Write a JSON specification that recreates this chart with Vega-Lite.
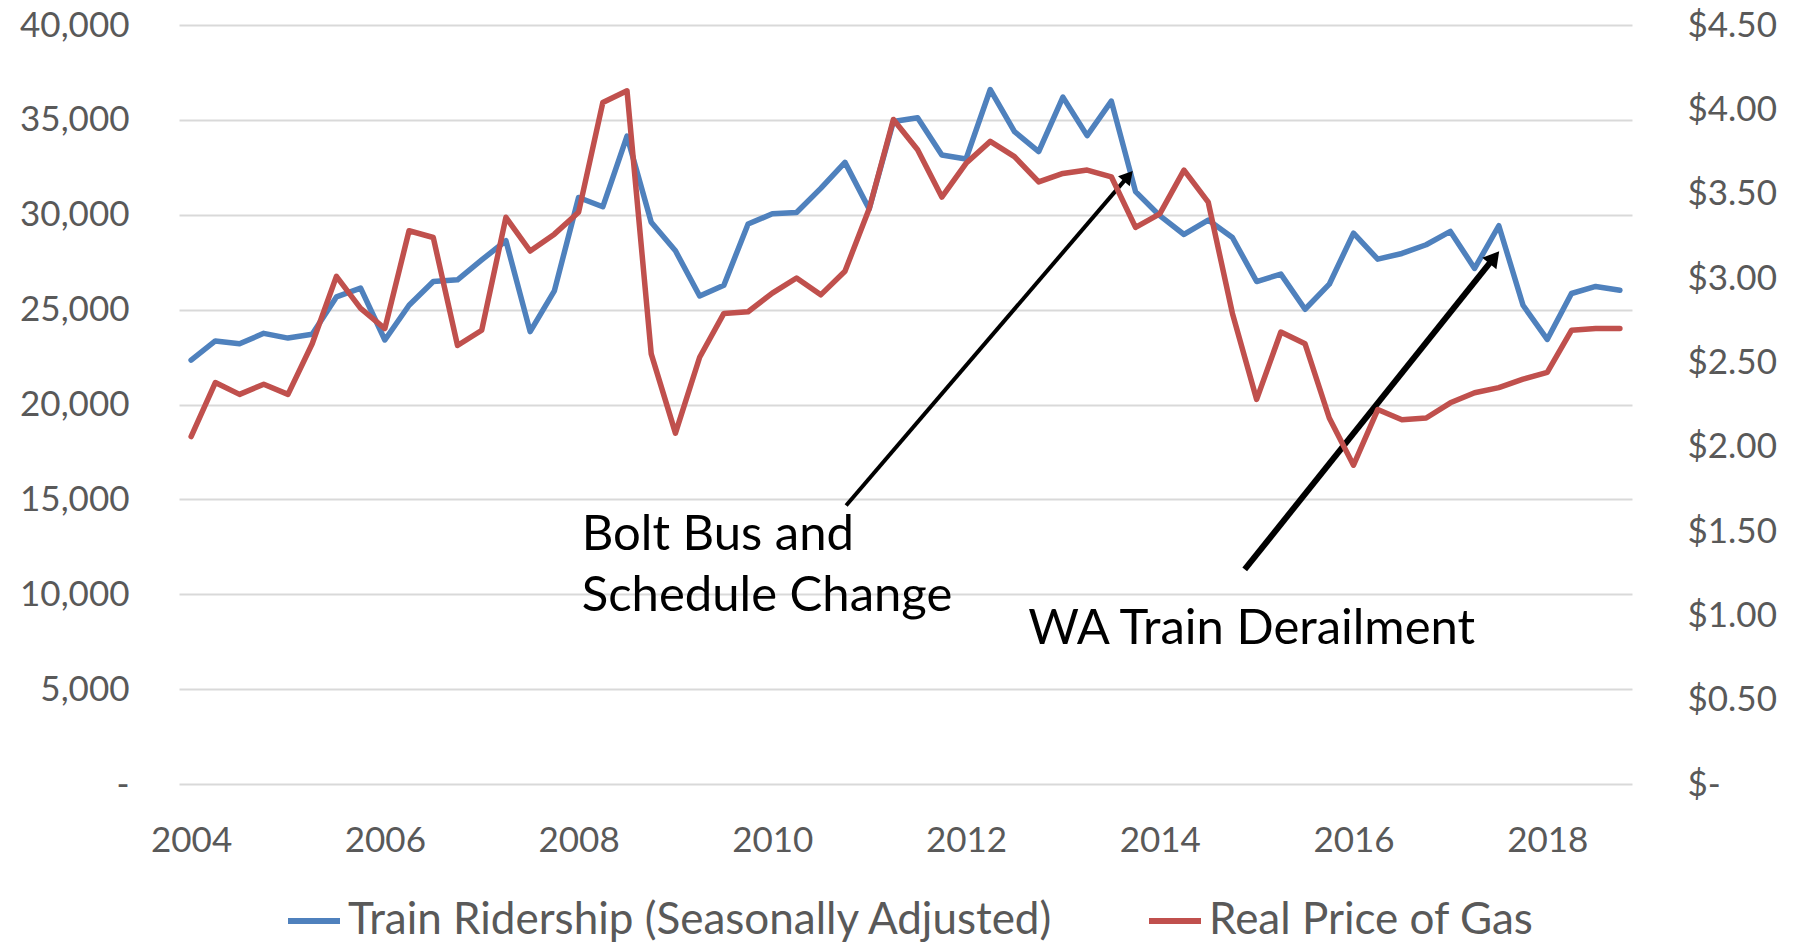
{
  "$schema": "https://vega.github.io/schema/vega-lite/v6.json",
  "width": 1453,
  "height": 759,
  "autosize": {"type": "none"},
  "padding": {"left": 179, "top": 25, "right": 180, "bottom": 158},
  "background": "white",
  "config": {
    "view": {"stroke": null},
    "font": "Lato",
    "axis": {"labelFont": "Lato", "labelColor": "#595959", "labelFontSize": 35, "title": null},
    "legend": {"labelFont": "Lato", "labelColor": "#595959", "labelFontSize": 44, "labelLimit": 0}
  },
  "datasets": {
    "series": [
      {"t": 2004.00, "ridership": 22340, "gas": 2.06},
      {"t": 2004.25, "ridership": 23350, "gas": 2.38},
      {"t": 2004.50, "ridership": 23200, "gas": 2.31},
      {"t": 2004.75, "ridership": 23750, "gas": 2.37},
      {"t": 2005.00, "ridership": 23500, "gas": 2.31},
      {"t": 2005.25, "ridership": 23700, "gas": 2.61},
      {"t": 2005.50, "ridership": 25670, "gas": 3.01},
      {"t": 2005.75, "ridership": 26130, "gas": 2.82},
      {"t": 2006.00, "ridership": 23400, "gas": 2.70},
      {"t": 2006.25, "ridership": 25230, "gas": 3.28},
      {"t": 2006.50, "ridership": 26480, "gas": 3.24},
      {"t": 2006.75, "ridership": 26570, "gas": 2.60},
      {"t": 2007.00, "ridership": 27620, "gas": 2.69},
      {"t": 2007.25, "ridership": 28630, "gas": 3.36},
      {"t": 2007.50, "ridership": 23840, "gas": 3.16},
      {"t": 2007.75, "ridership": 25990, "gas": 3.26},
      {"t": 2008.00, "ridership": 30910, "gas": 3.39},
      {"t": 2008.25, "ridership": 30420, "gas": 4.04},
      {"t": 2008.50, "ridership": 34140, "gas": 4.11},
      {"t": 2008.75, "ridership": 29600, "gas": 2.55},
      {"t": 2009.00, "ridership": 28100, "gas": 2.08},
      {"t": 2009.25, "ridership": 25720, "gas": 2.53},
      {"t": 2009.50, "ridership": 26290, "gas": 2.79},
      {"t": 2009.75, "ridership": 29510, "gas": 2.80},
      {"t": 2010.00, "ridership": 30050, "gas": 2.91},
      {"t": 2010.25, "ridership": 30120, "gas": 3.00},
      {"t": 2010.50, "ridership": 31390, "gas": 2.90},
      {"t": 2010.75, "ridership": 32760, "gas": 3.04},
      {"t": 2011.00, "ridership": 30300, "gas": 3.41},
      {"t": 2011.25, "ridership": 34910, "gas": 3.94},
      {"t": 2011.50, "ridership": 35110, "gas": 3.76},
      {"t": 2011.75, "ridership": 33150, "gas": 3.48},
      {"t": 2012.00, "ridership": 32940, "gas": 3.68},
      {"t": 2012.25, "ridership": 36600, "gas": 3.81},
      {"t": 2012.50, "ridership": 34380, "gas": 3.72},
      {"t": 2012.75, "ridership": 33330, "gas": 3.57},
      {"t": 2013.00, "ridership": 36200, "gas": 3.62},
      {"t": 2013.25, "ridership": 34170, "gas": 3.64},
      {"t": 2013.50, "ridership": 35990, "gas": 3.60},
      {"t": 2013.75, "ridership": 31220, "gas": 3.30},
      {"t": 2014.00, "ridership": 29950, "gas": 3.38},
      {"t": 2014.25, "ridership": 28960, "gas": 3.64},
      {"t": 2014.50, "ridership": 29720, "gas": 3.45},
      {"t": 2014.75, "ridership": 28800, "gas": 2.79},
      {"t": 2015.00, "ridership": 26480, "gas": 2.28},
      {"t": 2015.25, "ridership": 26870, "gas": 2.68},
      {"t": 2015.50, "ridership": 25020, "gas": 2.61},
      {"t": 2015.75, "ridership": 26340, "gas": 2.17},
      {"t": 2016.00, "ridership": 29030, "gas": 1.89},
      {"t": 2016.25, "ridership": 27660, "gas": 2.22},
      {"t": 2016.50, "ridership": 27960, "gas": 2.16},
      {"t": 2016.75, "ridership": 28420, "gas": 2.17},
      {"t": 2017.00, "ridership": 29120, "gas": 2.26},
      {"t": 2017.25, "ridership": 27170, "gas": 2.32},
      {"t": 2017.50, "ridership": 29420, "gas": 2.35},
      {"t": 2017.75, "ridership": 25230, "gas": 2.40},
      {"t": 2018.00, "ridership": 23430, "gas": 2.44},
      {"t": 2018.25, "ridership": 25850, "gas": 2.69},
      {"t": 2018.50, "ridership": 26220, "gas": 2.70},
      {"t": 2018.75, "ridership": 26020, "gas": 2.70}
    ],
    "arrows": [
      {"id": "bolt", "x1": 2010.762, "y1": 14679, "x2": 2013.675, "y2": 32033},
      {"id": "wa", "x1": 2014.877, "y1": 11307, "x2": 2017.453, "y2": 27755}
    ],
    "notes": [
      {"x": 2008.033, "y": 12307, "label": "Bolt Bus and"},
      {"x": 2008.033, "y": 9110, "label": "Schedule Change"},
      {"x": 2012.642, "y": 7355, "label": "WA Train Derailment"}
    ]
  },
  "resolve": {"scale": {"y": "independent"}},
  "layer": [
    {
      "layer": [
        {
          "data": {"name": "series"},
          "mark": {"type": "line", "strokeWidth": 5.5, "strokeJoin": "round", "strokeCap": "round"},
          "encoding": {
            "x": {
              "field": "t", "type": "quantitative",
              "scale": {"domain": [2003.875, 2018.875], "nice": false, "zero": false},
              "axis": {"values": [2004, 2006, 2008, 2010, 2012, 2014, 2016, 2018], "format": "d", "grid": false, "domain": false, "ticks": false, "labelPadding": 39, "labelFlush": false}
            },
            "y": {
              "field": "ridership", "type": "quantitative",
              "scale": {"domain": [0, 40000], "nice": false},
              "axis": {
                "orient": "left",
                "values": [0, 5000, 10000, 15000, 20000, 25000, 30000, 35000, 40000],
                "labelExpr": "datum.value == 0 ? '-\u00a0\u00a0' : format(datum.value, ',')",
                "grid": true, "gridColor": "#d9d9d9", "gridWidth": 2,
                "domain": false, "ticks": false, "labelPadding": 50
              }
            },
            "color": {
              "datum": "Train Ridership (Seasonally Adjusted)", "type": "nominal",
              "scale": {"domain": ["Train Ridership (Seasonally Adjusted)", "Real Price of Gas"], "range": ["#4f81bd", "#c0504d"]},
              "legend": {"title": null, "orient": "none", "legendX": 106, "legendY": 867, "direction": "horizontal", "symbolType": "stroke", "symbolSize": 2704, "symbolStrokeWidth": 6, "labelOffset": 5, "columnPadding": 83}
            }
          }
        },
        {
          "data": {"name": "arrows"},
          "transform": [{"filter": "datum.id == 'bolt'"}],
          "mark": {"type": "rule", "color": "black", "strokeWidth": 4},
          "encoding": {
            "x": {"field": "x1", "type": "quantitative"},
            "x2": {"field": "x2"},
            "y": {"field": "y1", "type": "quantitative"},
            "y2": {"field": "y2"}
          }
        },
        {
          "data": {"name": "arrows"},
          "transform": [{"filter": "datum.id == 'wa'"}],
          "mark": {"type": "rule", "color": "black", "strokeWidth": 6},
          "encoding": {
            "x": {"field": "x1", "type": "quantitative"},
            "x2": {"field": "x2"},
            "y": {"field": "y1", "type": "quantitative"},
            "y2": {"field": "y2"}
          }
        },
        {
          "data": {"name": "arrows"},
          "transform": [{"filter": "datum.id == 'bolt'"}],
          "mark": {"type": "point", "shape": "triangle-up", "filled": true, "color": "black", "opacity": 1, "size": 240, "angle": 40.7},
          "encoding": {
            "x": {"field": "x2", "type": "quantitative"},
            "y": {"field": "y2", "type": "quantitative"}
          }
        },
        {
          "data": {"name": "arrows"},
          "transform": [{"filter": "datum.id == 'wa'"}],
          "mark": {"type": "point", "shape": "triangle-up", "filled": true, "color": "black", "opacity": 1, "size": 330, "angle": 38.8},
          "encoding": {
            "x": {"field": "x2", "type": "quantitative"},
            "y": {"field": "y2", "type": "quantitative"}
          }
        },
        {
          "data": {"name": "notes"},
          "mark": {"type": "text", "align": "left", "baseline": "alphabetic", "font": "Lato", "fontSize": 49, "color": "black"},
          "encoding": {
            "x": {"field": "x", "type": "quantitative"},
            "y": {"field": "y", "type": "quantitative"},
            "text": {"field": "label"}
          }
        }
      ]
    },
    {
      "data": {"name": "series"},
      "mark": {"type": "line", "strokeWidth": 5.5, "strokeJoin": "round", "strokeCap": "round"},
      "encoding": {
        "x": {"field": "t", "type": "quantitative"},
        "y": {
          "field": "gas", "type": "quantitative",
          "scale": {"domain": [0, 4.5], "nice": false},
          "axis": {
            "orient": "right",
            "values": [0, 0.5, 1, 1.5, 2, 2.5, 3, 3.5, 4, 4.5],
            "labelExpr": "datum.value == 0 ? '$-' : '$' + format(datum.value, '.2f')",
            "grid": false, "domain": false, "ticks": false, "labelPadding": 55, "labelAlign": "left"
          }
        },
        "color": {"datum": "Real Price of Gas", "type": "nominal"}
      }
    }
  ]
}
